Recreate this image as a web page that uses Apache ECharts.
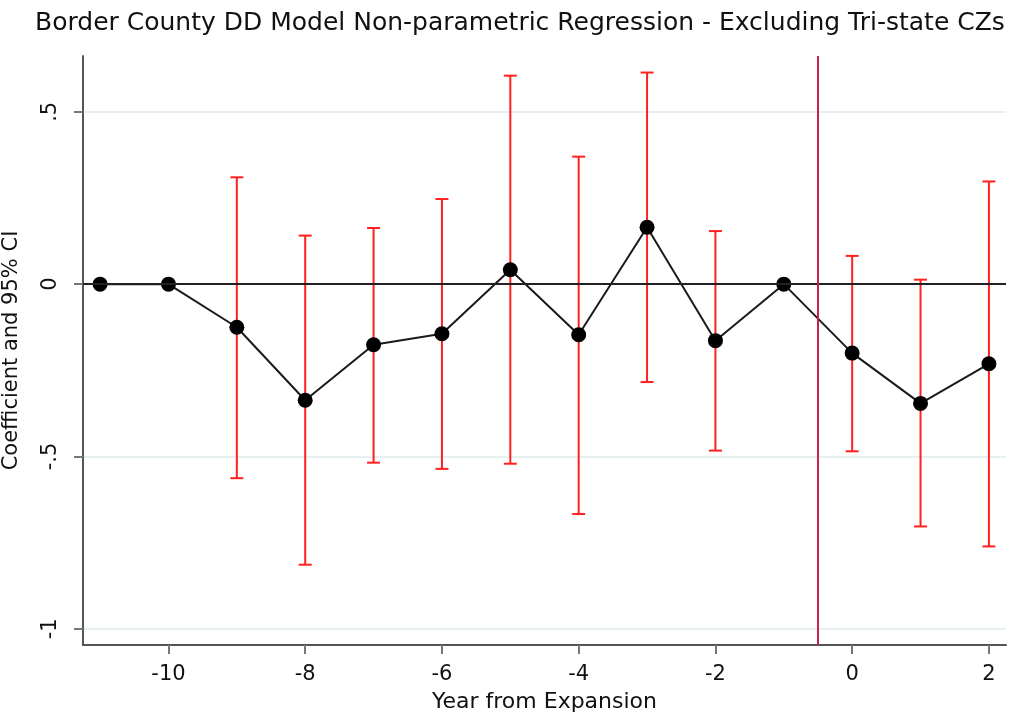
<!DOCTYPE html>
<html>
<head>
<meta charset="utf-8">
<script src="https://cdn.jsdelivr.net/npm/echarts@6/dist/echarts.min.js"></script>
<style>
  html, body { margin: 0; padding: 0; background: #ffffff; }
  #chart { width: 1022px; height: 719px; }
</style>
</head>
<body>
<div id="chart"></div>
<script>
// Event-study estimates by year relative to expansion
const years = [-11, -10, -9, -8, -7, -6, -5, -4, -3, -2, -1, 0, 1, 2];
const coef = [0, 0, -0.125, -0.337, -0.176, -0.144, 0.042, -0.147, 0.165, -0.164, 0, -0.200, -0.346, -0.231];
const ciUpper = [null, null, 0.310, 0.141, 0.163, 0.247, 0.605, 0.370, 0.614, 0.154, null, 0.082, 0.013, 0.298];
const ciLower = [null, null, -0.563, -0.814, -0.518, -0.536, -0.521, -0.667, -0.284, -0.483, null, -0.485, -0.703, -0.761];

// Axis tick labels
const xTicks = [-10, -8, -6, -4, -2, 0, 2];
const yTicks = [-1, -0.5, 0, 0.5];

// Reference lines
const zeroLine = 0;
const expansionLine = -0.5;

const FONT = 'DejaVu Sans';

function stataNum(v) {
  if (v === 0) return '0';
  const s = String(v);
  return s.replace(/^(-?)0\./, '$1.');
}

const pointData = years.map((y, i) => [y, coef[i]]);
const ciData = years
  .map((y, i) => [y, ciLower[i], ciUpper[i]])
  .filter(d => d[1] !== null && d[2] !== null);

const chart = echarts.init(document.getElementById('chart'), null, { renderer: 'canvas' });

chart.setOption({
  backgroundColor: '#ffffff',
  animation: false,
  title: {
    text: 'Border County DD Model Non-parametric Regression - Excluding Tri-state CZs',
    left: 30,
    top: 6,
    textStyle: { fontFamily: FONT, fontSize: 25, fontWeight: 'normal', color: '#111' }
  },
  grid: { left: 83, right: 16, top: 56, bottom: 74, outerBoundsMode: 'none' },
  xAxis: {
    type: 'value',
    min: -11.25,
    max: 2.25,
    name: 'Year from Expansion',
    nameLocation: 'middle',
    nameGap: 46,
    nameTextStyle: { fontFamily: FONT, fontSize: 22, color: '#111' },
    axisLine: { show: true, onZero: false, lineStyle: { color: '#555', width: 2 } },
    axisTick: { show: true, length: 9, lineStyle: { color: '#777', width: 2 }, customValues: xTicks },
    axisLabel: { customValues: xTicks, fontFamily: FONT, fontSize: 21, color: '#111', margin: 19, formatter: stataNum },
    splitLine: { show: false }
  },
  yAxis: {
    type: 'value',
    min: -1.047,
    max: 0.662,
    name: 'Coefficient and 95% CI',
    nameLocation: 'middle',
    nameRotate: 90,
    nameGap: 61,
    nameTextStyle: { fontFamily: FONT, fontSize: 21, color: '#111' },
    axisLine: { show: true, onZero: false, lineStyle: { color: '#555', width: 2 } },
    axisTick: { show: true, length: 9, lineStyle: { color: '#777', width: 2 }, customValues: yTicks },
    axisLabel: { customValues: yTicks, rotate: 90, fontFamily: FONT, fontSize: 21, color: '#111', margin: 22, formatter: stataNum },
    splitLine: { show: true, lineStyle: { color: '#e6f0f1', width: 2 } }
  },
  series: [
    {
      // 95% confidence intervals drawn as capped ranges
      type: 'custom',
      name: 'CI',
      data: ciData,
      z: 2,
      renderItem: function (params, api) {
        const x = api.value(0);
        const lo = api.coord([x, api.value(1)]);
        const hi = api.coord([x, api.value(2)]);
        const half = 6.5;
        const style = { stroke: '#ff2020', lineWidth: 2, fill: null };
        return {
          type: 'group',
          children: [
            { type: 'line', shape: { x1: lo[0], y1: lo[1], x2: hi[0], y2: hi[1] }, style: style },
            { type: 'line', shape: { x1: hi[0] - half, y1: hi[1], x2: hi[0] + half, y2: hi[1] }, style: style },
            { type: 'line', shape: { x1: lo[0] - half, y1: lo[1], x2: lo[0] + half, y2: lo[1] }, style: style }
          ]
        };
      }
    },
    {
      // Reference lines at zero and at the expansion date
      type: 'line',
      name: 'ref',
      data: [],
      z: 3,
      markLine: {
        silent: true,
        symbol: 'none',
        label: { show: false },
        data: [
          { yAxis: zeroLine, lineStyle: { color: '#222', width: 2, type: 'solid' } },
          { xAxis: expansionLine, lineStyle: { color: '#c8214c', width: 2, type: 'solid' } }
        ]
      }
    },
    {
      type: 'line',
      name: 'Coefficient',
      data: pointData,
      z: 4,
      symbol: 'circle',
      symbolSize: 15,
      itemStyle: { color: '#000' },
      lineStyle: { color: '#1a1a1a', width: 2 }
    }
  ]
});
</script>
</body>
</html>
